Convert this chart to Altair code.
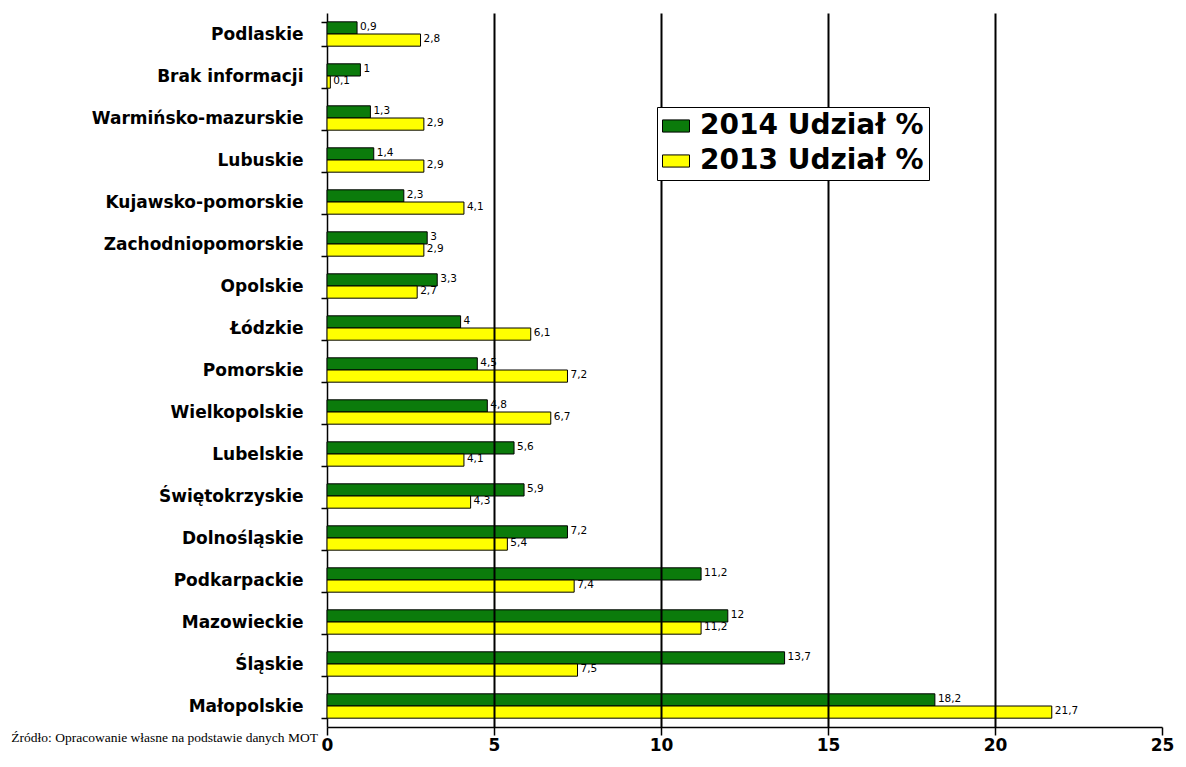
import altair as alt
import pandas as pd

regions = ["Podlaskie", "Brak informacji", "Warmińsko-mazurskie", "Lubuskie",
           "Kujawsko-pomorskie", "Zachodniopomorskie", "Opolskie", "Łódzkie",
           "Pomorskie", "Wielkopolskie", "Lubelskie", "Świętokrzyskie",
           "Dolnośląskie", "Podkarpackie", "Mazowieckie", "Śląskie", "Małopolskie"]
share_2014 = [0.9, 1, 1.3, 1.4, 2.3, 3, 3.3, 4, 4.5, 4.8, 5.6, 5.9, 7.2, 11.2, 12, 13.7, 18.2]
share_2013 = [2.8, 0.1, 2.9, 2.9, 4.1, 2.9, 2.7, 6.1, 7.2, 6.7, 4.1, 4.3, 5.4, 7.4, 11.2, 7.5, 21.7]
series = ["2014 Udział %", "2013 Udział %"]
colors = ["#0b7b0b", "#ffff00"]
x_ticks = [0, 5, 10, 15, 20, 25]
source = "Źródło: Opracowanie własne na podstawie danych MOT"

rows = []
for r, a, b in zip(regions, share_2014, share_2013):
    for s, v in zip(series, [a, b]):
        rows.append({"region": r, "series": s, "value": v,
                     "label": f"{v:g}".replace(".", ",")})
df = pd.DataFrame(rows)

y_enc = alt.Y("region:N", sort=regions,
              scale=alt.Scale(paddingInner=0.42, paddingOuter=0.21),
              axis=alt.Axis(title=None, labelFont="DejaVu Sans", labelFontWeight="bold",
                            labelFontSize=17, labelColor="black", labelPadding=18,
                            labelLimit=0,
                            tickBand="extent", tickSize=6, tickColor="black", tickWidth=1.5,
                            domainColor="black", domainWidth=1.5))
yoff_enc = alt.YOffset("series:N", sort=series)
x_enc = alt.X("value:Q", scale=alt.Scale(domain=[0, 25], nice=False),
              axis=alt.Axis(values=x_ticks, title=None, labelFont="DejaVu Sans",
                            labelFontWeight="bold", labelFontSize=17, labelColor="black",
                            labelPadding=2, labelFlush=False,
                            tickSize=8, tickColor="black", tickWidth=1.5,
                            domainColor="black", domainWidth=1.5,
                            grid=True, gridColor="black", gridWidth=2,
                            gridOpacity={"condition": {"test": "datum.value <= 0 || datum.value >= 25",
                                                       "value": 0}, "value": 1},
                            zindex=1))

bars = alt.Chart(df).mark_bar(stroke="black", strokeWidth=1).encode(
    x=x_enc, y=y_enc, yOffset=yoff_enc,
    color=alt.Color("series:N", sort=series,
                    scale=alt.Scale(domain=series, range=colors),
                    legend=alt.Legend(title=None, orient="none", legendX=330, legendY=94,
                                      labelFont="DejaVu Sans", labelFontWeight="bold",
                                      labelFontSize=28, labelColor="black", labelOffset=10,
                                      labelLimit=0,
                                      symbolType="M-1,-0.45H1V0.45H-1Z", symbolSize=729,
                                      symbolStrokeColor="black", symbolStrokeWidth=1,
                                      symbolOpacity=1, fillColor="white",
                                      strokeColor="black", padding=5, rowPadding=7,
                                      zindex=2)),
)

labels = alt.Chart(df).mark_text(align="left", baseline="middle", dx=3, dy=-1,
                                 fontSize=10.5, font="DejaVu Sans", color="black").encode(
    x=x_enc, y=y_enc, yOffset=yoff_enc, text="label:N")

src = alt.Chart(pd.DataFrame({"t": [source]})).mark_text(
    align="right", baseline="alphabetic", font="Liberation Serif", fontSize=13.5,
    color="black").encode(text="t:N", x=alt.value(-9), y=alt.value(729))

chart = alt.layer(bars, labels, src).properties(
    width=835, height=714,
    autosize=alt.AutoSizeParams(type="none"),
    padding={"left": 319, "top": 5, "right": 16, "bottom": 32},
).configure(background="white", view=alt.ViewConfig(stroke=None))

chart.save("out.html", embed_options={"renderer": "svg", "actions": False})
